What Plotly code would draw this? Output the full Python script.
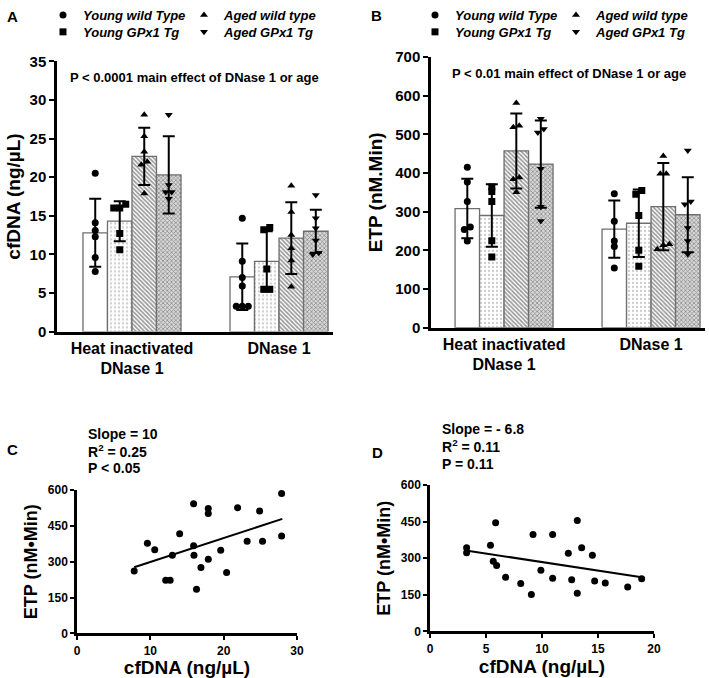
import plotly.graph_objects as go

FONT = "Liberation Sans, Arial, sans-serif"
W, H = 709, 678

# ---- data ----
groups = ["Heat inactivated<br>DNase 1", "DNase 1"]
series = ["Young wild Type", "Young GPx1 Tg", "Aged wild type", "Aged GPx1 Tg"]
symbols = ["circle", "square", "triangle-up", "triangle-down"]

# panel A: cfDNA (ng/uL), per series -> per group
cfdna_mean = [[12.8, 7.1], [14.3, 9.1], [22.7, 12.1], [20.3, 13.0]]
cfdna_sd = [[4.4, 4.3], [2.6, 3.9], [3.7, 4.65], [5.0, 2.8]]
cfdna_pts = [
    [[20.5, 14.1, 13.1, 12.3, 9.6, 7.8], [14.7, 9.1, 7.0, 5.9, 3.3, 3.3, 3.3]],
    [[16.0, 16.5, 16.0, 12.7, 10.6], [13.5, 13.2, 8.1, 5.5, 5.5]],
    [[28.1, 25.3, 23.3, 22.0, 21.6, 17.9], [18.9, 15.5, 12.5, 10.8, 9.2, 5.8]],
    [[28.1, 18.1, 18.1, 19.0, 17.2], [17.7, 14.7, 13.4, 11.8, 10.2, 10.0]],
]

# panel B: ETP (nM.Min)
etp_mean = [[308, 255], [290, 270], [457, 313], [423, 292]]
etp_sd = [[77, 74], [81, 87], [97, 113], [113, 97]]
etp_pts = [
    [[415, 377, 326, 260, 254, 224], [346, 275, 224, 210, 154]],
    [[364, 352, 326, 225, 183], [355, 345, 290, 200, 159]],
    [[581, 522, 518, 388, 384, 350], [444, 398, 398, 216, 213, 203]],
    [[540, 514, 505, 411, 313, 276], [458, 326, 319, 258, 224, 190]],
]

# panel C: ETP vs cfDNA (heat inactivated)
c_x = [7.8, 9.6, 10.6, 12.1, 12.7, 13.0, 14.0, 15.9, 15.9, 15.95, 16.3, 16.9,
       17.9, 17.9, 17.9, 19.6, 20.4, 21.9, 23.2, 24.9, 25.3, 27.9, 27.9]
c_y = [261, 377, 350, 223, 223, 327, 417, 542, 367, 327, 185, 276,
       523, 502, 310, 348, 255, 526, 386, 512, 386, 585, 407]
c_fit_x = [7.8, 28.0]
c_fit_y = [277, 479]

# panel D: ETP vs cfDNA (DNase 1)
d_x = [3.27, 3.27, 5.4, 5.86, 5.65, 5.95, 6.75, 8.1, 9.05, 9.2, 9.9, 10.95,
       10.95, 12.35, 12.65, 13.15, 13.15, 13.54, 14.5, 14.7, 15.65, 17.65, 18.9]
d_y = [343, 323, 353, 445, 288, 270, 222, 197, 151, 397, 251, 397,
       218, 320, 212, 455, 157, 343, 312, 207, 199, 182, 216]
d_fit_x = [3.2, 18.9]
d_fit_y = [332, 222]


def px_x(a, b):
    return [a / W, b / W]


def px_y(bottom, top):
    return [1 - bottom / H, 1 - top / H]


BAR_W = 1 / 6
patterns = [
    dict(shape=""),
    dict(shape=".", fgcolor="#9a9a9a", bgcolor="white", size=4, solidity=0.25),
    dict(shape="\\", fgcolor="#333333", bgcolor="white", size=3, solidity=0.55),
    dict(shape="x", fgcolor="#3c3c3c", bgcolor="#d8d8d8", size=3, solidity=0.45),
]


def spread(vals, ypx, xpx, gap=6.0):
    """simple beeswarm: spread points that sit on top of each other"""
    order = sorted(range(len(vals)), key=lambda i: vals[i])
    clusters, cur = [], [order[0]]
    for i in order[1:]:
        if (vals[i] - vals[cur[-1]]) * ypx < 4.0:
            cur.append(i)
        else:
            clusters.append(cur)
            cur = [i]
    clusters.append(cur)
    off = [0.0] * len(vals)
    for c in clusters:
        n = len(c)
        for j, i in enumerate(c):
            off[i] = (j - (n - 1) / 2) * gap / xpx
    return off


fig = go.Figure()


def add_bar_panel(xa, ya, means, sds, pts, ypx, xpx, legs):
    for k in range(4):
        off = (k - 1.5) * BAR_W
        fig.add_trace(go.Bar(
            x=[g + off for g in range(len(groups))], y=means[k], width=BAR_W,
            marker=dict(color="white", line=dict(color="#6e6e6e", width=1.3),
                        pattern=patterns[k]),
            error_y=dict(type="data", array=sds[k], color="black",
                         thickness=2, width=6),
            xaxis=xa, yaxis=ya, showlegend=False, hoverinfo="skip",
        ))
    for k in range(4):
        off = (k - 1.5) * BAR_W
        xs, ys = [], []
        for g in range(len(groups)):
            sp = spread(pts[k][g], ypx, xpx)
            xs += [g + off + s for s in sp]
            ys += pts[k][g]
        fig.add_trace(go.Scatter(
            x=xs, y=ys, mode="markers", name=series[k],
            marker=dict(symbol=symbols[k], size=7, color="black"),
            xaxis=xa, yaxis=ya, legend=legs[k],
        ))


# legend slots: series order YWT, YGT, AWT, AGT -> (col, row)
add_bar_panel("x", "y", cfdna_mean, cfdna_sd, cfdna_pts, 273 / 35, 147,
              ["legend", "legend2", "legend3", "legend4"])
add_bar_panel("x2", "y2", etp_mean, etp_sd, etp_pts, 273.5 / 700, 147,
              ["legend5", "legend6", "legend7", "legend8"])

# scatter panels
for xa, ya, xs, ys, fx, fy in [("x3", "y3", c_x, c_y, c_fit_x, c_fit_y),
                               ("x4", "y4", d_x, d_y, d_fit_x, d_fit_y)]:
    fig.add_trace(go.Scatter(x=xs, y=ys, mode="markers", showlegend=False,
                             marker=dict(size=7, color="black"), xaxis=xa, yaxis=ya))
    fig.add_trace(go.Scatter(x=fx, y=fy, mode="lines", showlegend=False,
                             line=dict(color="black", width=2), xaxis=xa, yaxis=ya))

bold = dict(family=FONT, color="black", weight="bold")
axis_common = dict(showline=True, linecolor="black", linewidth=2.5, showgrid=False,
                   zeroline=False, ticks="outside", tickwidth=2, tickcolor="black",
                   fixedrange=True, automargin=False)

fig.update_layout(
    width=W, height=H, margin=dict(l=0, r=0, t=0, b=0), autosize=False,
    plot_bgcolor="white", paper_bgcolor="white", barmode="overlay",
    font=dict(family=FONT, color="black"),
    # panel A
    xaxis=dict(axis_common, domain=px_x(57, 333), range=[-0.51, 1.367], anchor="y",
               tickvals=[0, 1], ticktext=groups, ticks="",
               tickfont=dict(bold, size=16)),
    yaxis=dict(axis_common, domain=px_y(328, 55), range=[0, 35], dtick=5, anchor="x",
               ticklen=5, tickfont=dict(bold, size=15),
               title=dict(text="cfDNA (ng/µL)", font=dict(bold, size=19), standoff=4)),
    # panel B
    xaxis2=dict(axis_common, domain=px_x(431, 705), range=[-0.497, 1.367], anchor="y2",
                tickvals=[0, 1], ticktext=groups, ticks="",
                tickfont=dict(bold, size=16)),
    yaxis2=dict(axis_common, domain=px_y(324, 50.5), range=[0, 700], dtick=100, anchor="x2",
                ticklen=5, tickfont=dict(bold, size=15),
                title=dict(text="ETP (nM.Min)", font=dict(bold, size=19), standoff=8)),
    # panel C
    xaxis3=dict(axis_common, domain=px_x(77, 297), range=[0, 30], dtick=10, anchor="y3",
                ticklen=4, tickfont=dict(bold, size=12),
                title=dict(text="cfDNA (ng/µL)", font=dict(bold, size=19), standoff=3)),
    yaxis3=dict(axis_common, domain=px_y(633, 488), range=[0, 600], dtick=150, anchor="x3",
                ticklen=4, tickfont=dict(bold, size=12),
                title=dict(text="ETP (nM•Min)", font=dict(bold, size=18), standoff=6)),
    # panel D
    xaxis4=dict(axis_common, domain=px_x(430, 654), range=[0, 20], dtick=5, anchor="y4",
                ticklen=4, tickfont=dict(bold, size=12),
                title=dict(text="cfDNA (ng/µL)", font=dict(bold, size=19), standoff=3)),
    yaxis4=dict(axis_common, domain=px_y(631, 483), range=[0, 600], dtick=150, anchor="x4",
                ticklen=4, tickfont=dict(bold, size=12),
                title=dict(text="ETP (nM•Min)", font=dict(bold, size=18), standoff=6)),
)

leg_font = dict(family=FONT, size=13, color="black", weight="bold", style="italic")
leg_slots = [
    ("legend", 43, -7), ("legend2", 43, 10), ("legend3", 184, -7), ("legend4", 184, 10),
    ("legend5", 415, -7), ("legend6", 415, 10), ("legend7", 556, -7), ("legend8", 556, 10),
]
for name, left, top in leg_slots:
    fig.update_layout({name: dict(x=left / W, y=1 - top / H, xanchor="left", yanchor="top",
                                  orientation="v", font=leg_font, bgcolor="rgba(0,0,0,0)",
                                  itemwidth=30, itemclick=False, itemdoubleclick=False)})

annots = [
    ("A", 12, 10, 15, "center"), ("B", 377, 9, 15, "center"),
    ("C", 12, 447, 15, "center"), ("D", 378, 450, 15, "center"),
    ("P < 0.0001 main effect of DNase 1 or age", 194, 71, 13, "center"),
    ("P < 0.01 main effect of DNase 1 or age", 569, 67, 13, "center"),
    ("Slope = 10", 86, 431, 14, "left"),
    ("R<sup>2</sup> = 0.25", 86, 449, 14, "left"),
    ("P < 0.05", 86, 466, 14, "left"),
    ("Slope = - 6.8", 440, 426, 14, "left"),
    ("R<sup>2</sup> = 0.11", 440, 444, 14, "left"),
    ("P = 0.11", 440, 462, 14, "left"),
]
for text, x, y, size, anchor in annots:
    fig.add_annotation(text=text, x=x / W, y=1 - y / H, xref="paper", yref="paper",
                       xanchor=anchor, yanchor="middle", showarrow=False,
                       font=dict(bold, size=size))

fig.write_html("out.html", config={"displayModeBar": False},
               post_script="document.body.style.margin='0';"
                           "document.body.style.overflow='hidden';")
